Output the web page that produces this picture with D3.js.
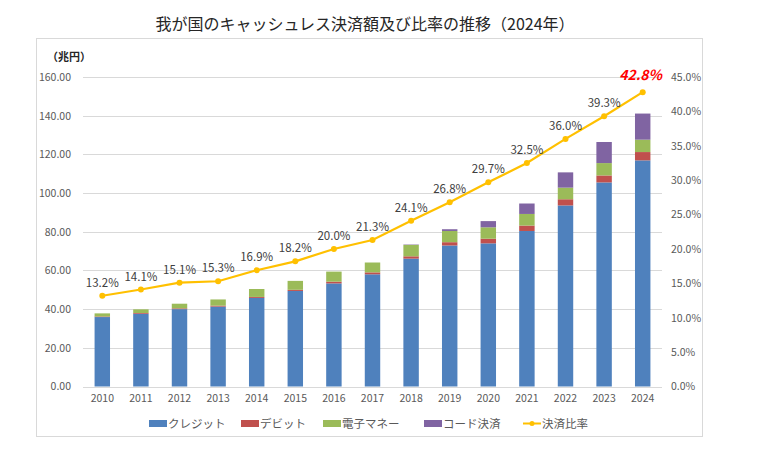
<!DOCTYPE html>
<html><head><meta charset="utf-8">
<script src="https://cdn.jsdelivr.net/npm/d3@7"></script>
<style>
body{margin:0;background:#fff;}
text{font-family:"Noto Sans CJK JP","Noto Sans",sans-serif;}
</style></head>
<body><svg id="c" width="760" height="457"></svg>
<script>
const years = ["2010","2011","2012","2013","2014","2015","2016","2017","2018","2019","2020","2021","2022","2023","2024"];
const credit = [35.9,37.6,40.0,41.3,45.8,49.4,53.3,58.0,66.1,72.9,74.0,80.4,93.6,105.5,116.9];
const debit  = [0.3,0.4,0.4,0.5,0.5,0.6,0.9,1.0,1.2,1.7,2.4,2.8,3.2,3.6,4.3];
const emoney = [1.6,1.9,2.4,3.2,4.1,4.6,5.2,5.1,5.9,5.8,5.9,6.0,6.0,6.4,6.4];
const code   = [0,0,0,0,0,0,0,0,0.2,0.9,3.2,5.4,7.9,10.9,13.5];
const ratio  = [13.2,14.1,15.1,15.3,16.9,18.2,20.0,21.3,24.1,26.8,29.7,32.5,36.0,39.3,42.8];
const leftTicks = [0,20,40,60,80,100,120,140,160];
const rightTicks = [0,5,10,15,20,25,30,35,40,45];
const seriesNames = ["クレジット","デビット","電子マネー","コード決済"];
const ratioName = "決済比率";
const titleText = "我が国のキャッシュレス決済額及び比率の推移（2024年）";
const unitText = "（兆円）";
const colors = ["#4F81BD","#C0504D","#9BBB59","#8064A2"];
const lineColor = "#FFC000";

const svg = d3.select("#c");
const L=83, R=662, T=77, B=386.5;

svg.append("rect").attr("x",36.5).attr("y",38.5).attr("width",666).attr("height",398)
  .attr("fill","none").attr("stroke","#d9d9d9");

svg.append("text").attr("x",365).attr("y",30).attr("text-anchor","middle")
  .attr("font-size",16).attr("fill","#262626").text(titleText);

const x = d3.scaleBand().domain(years).range([L,R]).paddingInner(0.6).paddingOuter(0.3);
const y = d3.scaleLinear().domain([0,160]).range([B,T]);
const y2 = d3.scaleLinear().domain([0,45]).range([B,T]);

// grid
svg.append("g").selectAll("line").data(leftTicks).join("line")
  .attr("x1",L).attr("x2",R).attr("y1",d=>Math.round(y(d))+0.5).attr("y2",d=>Math.round(y(d))+0.5)
  .attr("stroke","#d9d9d9").attr("stroke-width",1);

// left axis
const ga = svg.append("g").attr("transform",`translate(${L-12},0)`)
  .call(d3.axisLeft(y).tickValues(leftTicks).tickFormat(d3.format(".2f")).tickSize(0).tickPadding(0));
ga.select(".domain").remove();
ga.selectAll("text").attr("font-size",10.5).attr("fill","#595959").attr("font-family","'Noto Sans CJK JP',sans-serif");

// right axis
const gr = svg.append("g").attr("transform",`translate(${R+9},0)`)
  .call(d3.axisRight(y2).tickValues(rightTicks).tickFormat(d=>d.toFixed(1)+"%").tickSize(0).tickPadding(0));
gr.select(".domain").remove();
gr.selectAll("text").attr("font-size",10.5).attr("fill","#595959").attr("font-family","'Noto Sans CJK JP',sans-serif");

// bottom axis
const gb = svg.append("g").attr("transform",`translate(0,${B})`)
  .call(d3.axisBottom(x).tickSize(0).tickPadding(8));
gb.select(".domain").remove();
gb.selectAll("text").attr("font-size",10.5).attr("fill","#595959").attr("font-family","'Noto Sans CJK JP',sans-serif");

svg.append("text").attr("x",47).attr("y",61).attr("font-size",11).attr("font-weight","bold")
  .attr("fill","#262626").text(unitText);

// stacked bars
const rows = years.map((yr,i)=>({year:yr, s0:credit[i], s1:debit[i], s2:emoney[i], s3:code[i]}));
const stack = d3.stack().keys(["s0","s1","s2","s3"])(rows);
svg.append("g").selectAll("g").data(stack).join("g").attr("fill",(d,i)=>colors[i])
  .selectAll("rect").data(d=>d).join("rect")
  .attr("x",d=>x(d.data.year)).attr("width",x.bandwidth())
  .attr("y",d=>y(d[1])).attr("height",d=>Math.max(0,y(d[0])-y(d[1])));

// line
const cx = d=>x(d)+x.bandwidth()/2;
const line = d3.line().x((d,i)=>cx(years[i])).y(d=>y2(d));
svg.append("path").datum(ratio).attr("d",line).attr("fill","none").attr("stroke",lineColor).attr("stroke-width",2.2);
svg.append("g").selectAll("circle").data(ratio).join("circle")
  .attr("cx",(d,i)=>cx(years[i])).attr("cy",d=>y2(d)).attr("r",3).attr("fill",lineColor);

// labels
svg.append("g").selectAll("text").data(ratio).join("text")
  .attr("x",(d,i)=>cx(years[i])).attr("y",d=>y2(d)-9)
  .attr("text-anchor","middle")
  .attr("font-size",(d,i)=>i===ratio.length-1?14:11.5)
  .attr("font-weight",(d,i)=>i===ratio.length-1?"bold":"normal")
  .attr("font-style",(d,i)=>i===ratio.length-1?"italic":"normal")
  .attr("fill",(d,i)=>i===ratio.length-1?"#FF0000":"#404040")
  .attr("dx",(d,i)=>i===ratio.length-1?-2:0)
  .attr("dy",(d,i)=>i===ratio.length-1?-3:0)
  .text(d=>d.toFixed(1)+"%");

// legend
const legX = [149,241,323,424];
const lg = svg.append("g");
seriesNames.forEach((n,i)=>{
  lg.append("rect").attr("x",legX[i]).attr("y",420).attr("width",18).attr("height",7).attr("fill",colors[i]);
  lg.append("text").attr("x",legX[i]+19).attr("y",428).attr("font-size",11.5).attr("fill","#595959").text(n);
});
lg.append("line").attr("x1",523).attr("x2",541).attr("y1",423.5).attr("y2",423.5).attr("stroke",lineColor).attr("stroke-width",2);
lg.append("circle").attr("cx",532).attr("cy",423.5).attr("r",2.5).attr("fill",lineColor);
lg.append("text").attr("x",542).attr("y",428).attr("font-size",11.5).attr("fill","#595959").text(ratioName);
</script></body></html>
